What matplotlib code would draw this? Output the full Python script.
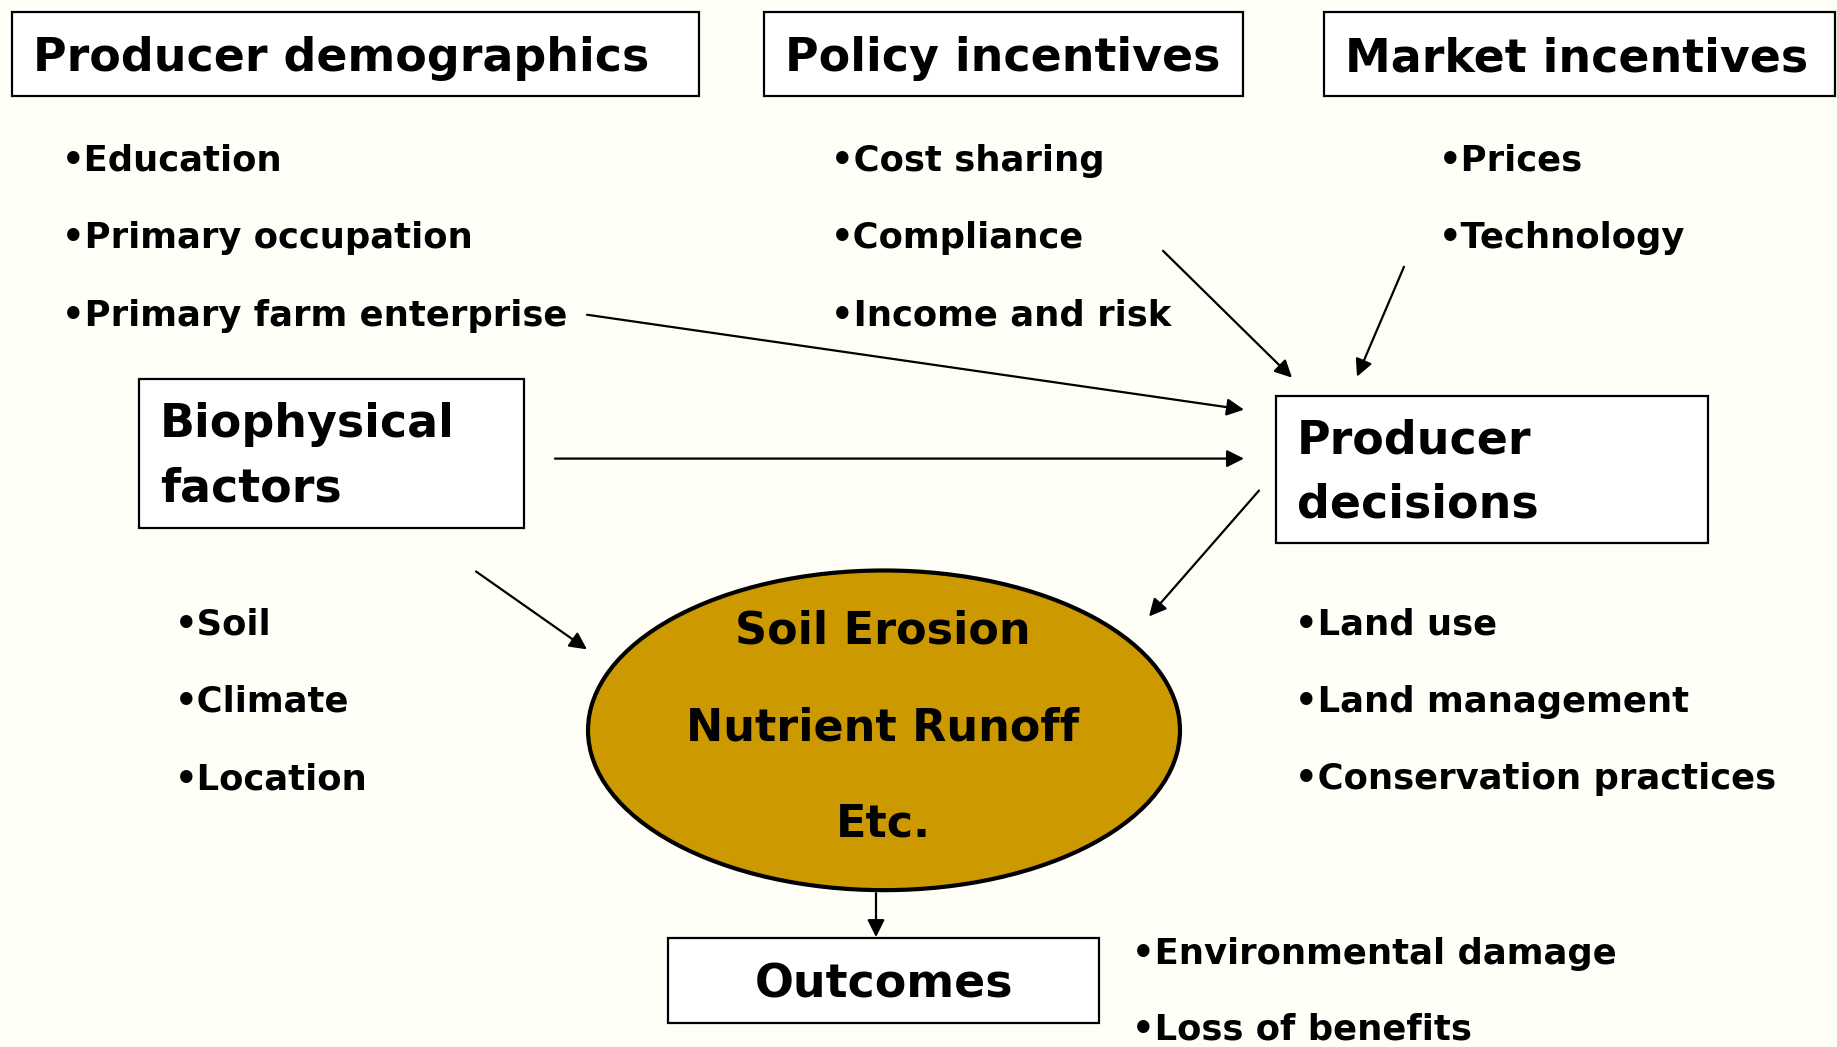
import matplotlib
matplotlib.use("Agg")
import matplotlib.pyplot as plt
from matplotlib.patches import Rectangle, Ellipse, FancyArrowPatch

# --- content ---
top_titles = ["Producer demographics", "Policy incentives", "Market incentives"]
demo_items = ["Education", "Primary occupation", "Primary farm enterprise"]
policy_items = ["Cost sharing", "Compliance", "Income and risk"]
market_items = ["Prices", "Technology"]
bio_title = ["Biophysical", "factors"]
bio_items = ["Soil", "Climate", "Location"]
decision_title = ["Producer", "decisions"]
decision_items = ["Land use", "Land management", "Conservation practices"]
center_lines = ["Soil Erosion", "Nutrient Runoff", "Etc."]
outcome_title = "Outcomes"
outcome_items = ["Environmental damage", "Loss of benefits"]

BG = "#FFFFF8"
GOLD = "#CC9900"
FONT = "DejaVu Sans"

W, H = 1837, 1047
fig = plt.figure(figsize=(W / 100, H / 100), dpi=100, facecolor=BG)
ax = fig.add_axes([0, 0, 1, 0.999])
ax.set_xlim(0, W)
ax.set_ylim(H, 0)
ax.axis("off")
ax.set_facecolor(BG)


def box(x0, y0, x1, y1):
    ax.add_patch(Rectangle((x0, y0), x1 - x0, y1 - y0, fill=True, fc="white",
                           ec="black", lw=1.6, zorder=2))


def txt(x, y, s, size, ha="left", **kw):
    ax.text(x, y, s, fontsize=size, fontweight="bold", family=FONT,
            ha=ha, va="center", zorder=3, **kw)


def bullets(x, y0, items, step=77.5, size=25.5):
    for i, s in enumerate(items):
        txt(x, y0 + i * step, "\u2022" + s, size)


def arrow(p0, p1):
    ax.add_patch(FancyArrowPatch(p0, p1, arrowstyle="-|>", mutation_scale=26,
                                 lw=1.6, color="black", shrinkA=0, shrinkB=0, zorder=4))


# top header boxes
top_boxes = [(12, 11, 699, 95), (764, 11, 1243, 95), (1324, 11, 1835, 95)]
for (x0, y0, x1, y1), t in zip(top_boxes, top_titles):
    box(x0, y0, x1, y1)
    txt(x0 + 21, (y0 + y1) / 2 + 5, t, 33)

bullets(62, 160, demo_items)
bullets(831, 160, policy_items)
bullets(1439, 160, market_items)

# biophysical
box(139, 378, 524, 527)
for i, s in enumerate(bio_title):
    txt(160, 424 + i * 64, s, 33)
bullets(175, 624, bio_items)

# producer decisions
box(1276, 395, 1708, 542)
for i, s in enumerate(decision_title):
    txt(1297, 440 + i * 64, s, 33)
bullets(1295, 624, decision_items)

# center ellipse
ax.add_patch(Ellipse((884, 730), 592, 320, fc=GOLD, ec="black", lw=3, zorder=2))
for i, s in enumerate(center_lines):
    txt(883, 631 + i * 96.5, s, 32, ha="center")

# outcomes
box(668, 938, 1099, 1023)
txt(884, 985, outcome_title, 33, ha="center")
bullets(1132, 954, outcome_items, step=75.5)

# arrows
arrow((587, 314), (1244, 409))
arrow((555, 458), (1244, 458))
arrow((1163, 250), (1292, 377))
arrow((1404, 266), (1357, 376))
arrow((1259, 490), (1149, 616))
arrow((476, 571), (587, 649))
arrow((876, 893), (876, 937))

fig.savefig("out.png", dpi=100, facecolor=BG)
